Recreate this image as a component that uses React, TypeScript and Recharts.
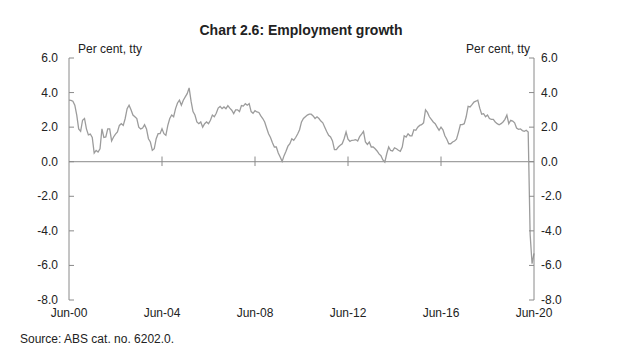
import { LineChart, Line, XAxis, YAxis, ReferenceLine } from 'recharts';

// Employment, per cent through the year, monthly Jun-00 .. Jun-20
const growth2000s = [
  3.56, 3.55, 3.5, 3.27, 2.7, 1.9, 1.76, 2.4, 2.5, 1.9, 1.55, 1.6,
  1.4, 0.5, 0.65, 0.56, 0.75, 1.9, 1.4, 1.43, 1.9, 1.9, 1.2, 1.43,
  1.6, 1.72, 2.1, 2.2, 2.1, 2.5, 3.07, 3.27, 3.0, 2.7, 2.6, 2.5,
  2.0, 1.9, 1.95, 2.14, 1.9, 1.33, 1.14, 0.66, 0.75, 1.33, 1.62, 1.62,
];
const growth2004s = [
  1.9, 1.62, 1.53, 2.1, 2.5, 2.7, 2.6, 3.07, 3.4, 3.56, 3.27, 3.56,
  3.75, 3.94, 4.27, 3.5, 2.9, 2.7, 2.3, 2.2, 2.3, 2.0, 2.2, 2.3,
  2.2, 2.4, 2.7, 2.6, 2.8, 3.1, 3.2, 3.07, 3.17, 3.07, 3.25, 3.1,
  2.98, 2.78, 3.0, 3.0, 2.9, 3.25, 3.22, 3.36, 3.27, 3.36, 2.9, 2.8,
];
const growth2008s = [
  2.95, 2.88, 2.85, 2.65, 2.5, 2.3, 1.95, 1.62, 1.4, 1.1, 0.85, 0.85,
  0.5, 0.27, 0.02, 0.35, 0.6, 0.9, 1.04, 1.33, 1.24, 1.4, 1.6, 1.85,
  2.3, 2.5, 2.6, 2.7, 2.75, 2.75, 2.65, 2.5, 2.6, 2.5, 2.35, 2.25,
  2.0, 1.75, 1.53, 1.43, 1.2, 0.7, 0.7, 0.85, 0.95, 1.04, 1.33, 1.72,
];
const growth2012s = [
  1.3, 1.18, 1.24, 1.25, 1.28, 1.2, 1.45, 1.6, 1.76, 1.14, 1.0, 1.14,
  0.85, 0.85, 0.75, 0.62, 0.45, 0.35, 0.1, -0.02, 0.46, 0.85, 0.65, 0.62,
  0.8, 0.75, 0.66, 0.6, 0.85, 1.5, 1.43, 1.62, 1.5, 1.5, 1.85, 1.82,
  2.0, 2.1, 2.14, 2.25, 3.0, 2.85, 2.6, 2.45, 2.3, 2.2, 2.0, 1.82,
];
const growth2016s = [
  2.0, 1.85, 1.5, 1.3, 1.04, 1.04, 1.14, 1.2, 1.3, 1.7, 2.14, 2.15,
  2.2, 2.6, 3.2, 3.17, 3.3, 3.45, 3.5, 3.56, 3.1, 2.75, 2.78, 2.6,
  2.7, 2.5, 2.45, 2.45, 2.3, 2.2, 2.14, 2.2, 2.3, 2.45, 2.7, 2.2,
  2.4, 2.35, 2.25, 1.95, 1.87, 1.9, 1.8, 1.76, 1.82, 1.72, -4.2, -5.9,
  -5.3,
];

const growth = [...growth2000s, ...growth2004s, ...growth2008s, ...growth2012s, ...growth2016s];

const monthNames = ['Jan', 'Feb', 'Mar', 'Apr', 'May', 'Jun', 'Jul', 'Aug', 'Sep', 'Oct', 'Nov', 'Dec'];
const months = growth.map((_, i) => {
  const m = 5 + i;
  const yy = (m / 12 | 0) % 100;
  return `${monthNames[m % 12]}-${String(yy).padStart(2, '0')}`;
});

const xTicks = ['Jun-00', 'Jun-04', 'Jun-08', 'Jun-12', 'Jun-16', 'Jun-20'];
const innerTicks = ['Jun-04', 'Jun-08', 'Jun-12', 'Jun-16'];
const yTicks = [-8, -6, -4, -2, 0, 2, 4, 6];

const data = months.map((month, i) => ({ month, value: growth[i] }));

const FONT = '"Liberation Sans", Arial, sans-serif';
const AXIS = '#8a8a8a';
const TEXT = '#222';

function SideTick(props: any, side: 'left' | 'right', margin: number) {
  const { x, y, payload } = props;
  const lineX = side === 'left' ? x + margin : x - margin;
  const dir = side === 'left' ? 1 : -1;
  return (
    <g>
      <line x1={lineX} x2={lineX + dir * 5} y1={y} y2={y} stroke={AXIS} />
      <text
        x={x}
        y={y}
        dy={4}
        textAnchor={side === 'left' ? 'end' : 'start'}
        fontSize={12}
        fontFamily={FONT}
        fill={TEXT}
      >
        {Number(payload.value).toFixed(1)}
      </text>
    </g>
  );
}

export default function App() {
  return (
    <div style={{ position: 'absolute', left: 0, top: 0, width: 640, height: 360, background: '#fff', fontFamily: FONT, color: TEXT }}>
      <div style={{ position: 'absolute', left: 0, width: 602, top: 22, textAlign: 'center', fontWeight: 'bold', fontSize: 14 }}>
        Chart 2.6: Employment growth
      </div>
      <div style={{ position: 'absolute', left: 78, top: 42, fontSize: 12 }}>Per cent, tty</div>
      <div style={{ position: 'absolute', right: 110, top: 42, fontSize: 12 }}>Per cent, tty</div>
      <div style={{ position: 'absolute', left: 20, top: 332, fontSize: 12 }}>Source: ABS cat. no. 6202.0.</div>
      <LineChart width={640} height={360} data={data} margin={{ top: 58, right: 66, bottom: 30, left: 29 }}>
        <XAxis
          dataKey="month"
          ticks={xTicks}
          interval={0}
          axisLine={false}
          tickLine={false}
          tickSize={0}
          tickMargin={8}
          tick={{ fontSize: 12, fontFamily: FONT, fill: TEXT }}
        />
        <YAxis
          yAxisId="left"
          domain={[-8, 6]}
          ticks={yTicks}
          interval={0}
          width={40}
          axisLine={{ stroke: AXIS }}
          tickLine={false}
          tickSize={0}
          tickMargin={11}
          tick={(p: any) => SideTick(p, 'left', 11)}
        />
        <YAxis
          yAxisId="right"
          orientation="right"
          domain={[-8, 6]}
          ticks={yTicks}
          interval={0}
          width={40}
          axisLine={{ stroke: AXIS }}
          tickLine={false}
          tickSize={0}
          tickMargin={7}
          tick={(p: any) => SideTick(p, 'right', 7)}
        />
        <ReferenceLine yAxisId="left" y={0} stroke={AXIS} />
        {innerTicks.map((t) => (
          <ReferenceLine
            key={t}
            yAxisId="left"
            segment={[{ x: t, y: 0.3 }, { x: t, y: -0.25 }]}
            stroke={AXIS}
          />
        ))}
        <Line
          yAxisId="right"
          type="linear"
          dataKey="value"
          stroke="none"
          strokeWidth={0}
          dot={false}
          activeDot={false}
          isAnimationActive={false}
        />
        <Line
          yAxisId="left"
          type="linear"
          dataKey="value"
          stroke="#9c9c9c"
          strokeWidth={1.3}
          dot={false}
          isAnimationActive={false}
        />
      </LineChart>
    </div>
  );
}
